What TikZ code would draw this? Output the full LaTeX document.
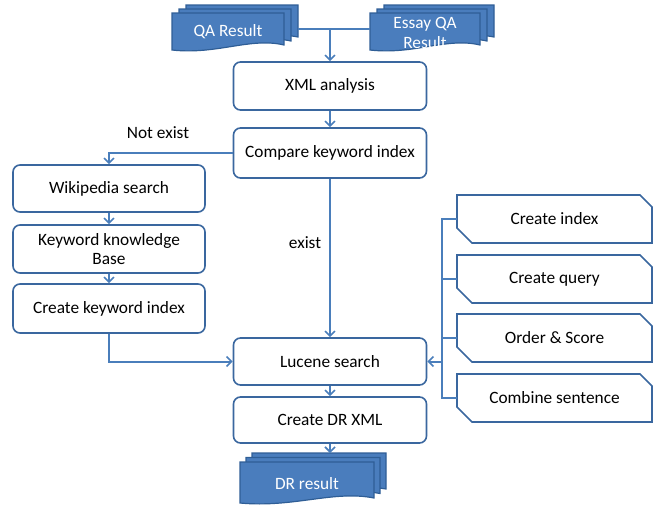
\documentclass[tikz,border=0pt]{standalone}
\usepackage{fontspec}
\setmainfont{Carlito}
\usetikzlibrary{arrows.meta,calc}
\definecolor{lineblue}{HTML}{4A7EBB}
\definecolor{edgeblue}{HTML}{3A679F}
\definecolor{docfill}{HTML}{4A7DBD}
\definecolor{docedge}{HTML}{2F5E96}
\newcommand\docpath[4]{(#1,#2) -- (#3,#2) -- (#3,{#4-5}) .. controls ({#3-0.3*(#3-#1)},{#4-13}) and ({#1+0.4*(#3-#1)},{#4+5}) .. (#1,#4) -- cycle}
\newcommand\multidoc[6]{%
  \draw[docshape] \docpath{#1+2*#5}{#2+2*#6}{#3+2*#5}{#4+2*#6};
  \draw[docshape] \docpath{#1+#5}{#2+#6}{#3+#5}{#4+#6};
  \draw[docshape] \docpath{#1}{#2}{#3}{#4};}
\begin{document}
\begin{tikzpicture}[x=1pt,y=-1pt,
  every node/.style={font=\fontsize{17.3}{19.5}\selectfont},
  docshape/.style={fill=docfill,draw=docedge,line width=1.2pt},
  box/.style={draw=edgeblue,line width=1.6pt,rounded corners=7pt,fill=white,minimum width=193pt,align=center,inner sep=2pt},
  cutbox/.style={minimum width=195pt,minimum height=48pt,inner sep=0pt},
  cutline/.style={draw=edgeblue,line width=1.6pt,fill=white,line join=miter},
  conn/.style={draw=lineblue,line width=2pt},
  arr/.style={conn,-{Straight Barb[length=5pt,width=10pt,line width=1.6pt]}},
  doctext/.style={text=white,align=center},
  lbl/.style={text=black}]
\useasboundingbox (0,0) rectangle (655,506);

% documents
\multidoc{172}{13}{284}{50}{7}{-4}
\multidoc{370}{13}{480}{50}{7}{-4}
\multidoc{240}{462}{374}{503}{6}{-4.5}
\node[doctext] (qa) at (228,32) {QA Result};
\node[doctext] (essay) at (425,33) {Essay QA\\Result};
\node[doctext] (dr) at (307,484) {DR result};
\coordinate (qaR) at (298,29);
\coordinate (esL) at (370,29);
\coordinate (jn) at (330,29);
\coordinate (drtop) at (330,453);

% central boxes
\node[box,minimum height=48pt] (xml) at (330,86) {XML analysis};
\node[box,minimum height=50pt] (cmp) at (330,153) {Compare keyword index};
\node[box,minimum height=47pt] (luc) at (330,361.5) {Lucene search};
\node[box,minimum height=46pt] (drx) at (330,420) {Create DR XML};

% left boxes
\node[box,minimum width=192pt,minimum height=47pt] (wiki) at (109,188.5) {Wikipedia search};
\node[box,minimum width=192pt,minimum height=48pt] (kkb) at (109,249) {Keyword knowledge\\[-1pt]Base};
\node[box,minimum width=192pt,minimum height=49pt] (cki) at (109,308.5) {Create keyword index};

% right cut boxes
\foreach \nm/\yy in {ci/219,cq/279,os/338,cs/398}{
  \path[cutline] (457,\yy-24) -- (640,\yy-24) -- (652,\yy-12) -- (652,\yy+24) -- (472,\yy+24) -- (457,\yy+9) -- cycle;
}
\node[cutbox] (ci) at (554.5,219) {Create index};
\node[cutbox] (cq) at (554.5,279) {Create query};
\node[cutbox] (os) at (554.5,338) {Order \& Score};
\node[cutbox] (cs) at (554.5,398) {Combine sentence};
\coordinate (bus) at (442,0);

% connectors
\draw[conn] (qaR) -- (esL);
\draw[arr] (jn) -- (xml.north);
\draw[arr] (xml.south) -- (cmp.north);
\draw[arr] (cmp.west) -| (wiki.north);
\draw[arr] (wiki.south) -- (kkb.north);
\draw[arr] (kkb.south) -- (cki.north);
\draw[arr] (cki.south) |- (luc.west);
\draw[arr] (cmp.south) -- (luc.north);
\draw[arr] (luc.south) -- (drx.north);
\draw[arr] (drx.south) -- (drtop);
\draw[conn] (ci.west) -| (bus |- cs.west) -- (cs.west);
\draw[conn] (cq.west) -- (bus |- cq.west);
\draw[conn] (os.west) -- (bus |- os.west);
\draw[arr] (bus |- luc.east) -- (luc.east);

% labels
\node[lbl] (notexist) at (158,133) {Not exist};
\node[lbl] (exist) at (305,243) {exist};
\end{tikzpicture}
\end{document}
